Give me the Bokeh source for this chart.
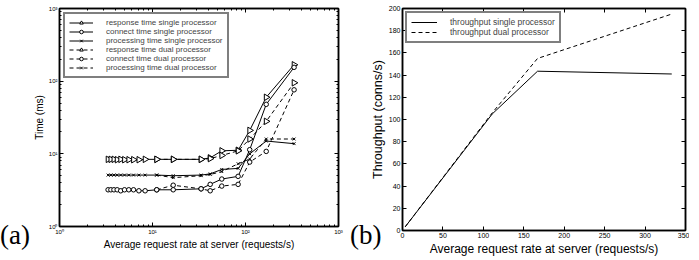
import math
from bokeh.plotting import figure
from bokeh.models import (Legend, LegendItem, LogAxis, LinearAxis, Range1d,
                          FixedTicker, Div)
from bokeh.layouts import row
from bokeh.embed import file_html
from bokeh.resources import INLINE

# ---------------- data ----------------
rate_single = [3.33, 3.57, 3.85, 4.17, 4.55, 5.0, 5.56, 6.25, 7.14, 8.33,
               11.1, 16.7, 33.3, 41.7, 55.6, 83.3, 111, 167, 333]
resp_single = [8.4, 8.4, 8.4, 8.3, 8.4, 8.3, 8.3, 8.3, 8.3, 8.4,
               8.4, 8.4, 8.4, 8.8, 11.0, 11.2, 21, 60, 168]
conn_single = [3.2, 3.2, 3.2, 3.2, 3.1, 3.2, 3.2, 3.2, 3.1, 3.1,
               3.2, 3.2, 3.3, 3.8, 4.5, 4.9, 11.4, 48, 155]
proc_single = [5.1, 5.1, 5.1, 5.1, 5.1, 5.1, 5.1, 5.1, 5.1, 5.1,
               5.1, 5.0, 5.1, 5.3, 6.1, 6.3, 10, 15, 13.8]

rate_dual = [11.1, 16.7, 33.3, 41.7, 55.6, 83.3, 111, 167, 333]
resp_dual = [8.4, 8.4, 8.4, 8.6, 9.5, 11, 16, 28, 95]
conn_dual = [3.2, 3.7, 3.3, 3.1, 3.6, 3.8, 7.7, 10.8, 76]
proc_dual = [5.1, 4.7, 5.0, 5.2, 5.7, 7.3, 8.5, 16, 16]

tp_rate = [3.33, 111, 167, 333]
tp_single = [3.3, 105, 143.5, 141]
tp_dual = [3.3, 106, 155, 195]

log_ticks = [1, 10, 100, 1000]
log_tick_labels = ["10⁰", "10¹", "10²", "10³"]
tp_xticks = [0, 50, 100, 150, 200, 250, 300, 350]
tp_yticks = [0, 20, 40, 60, 80, 100, 120, 140, 160, 180, 200]
panel_labels = ["(a)", "(b)"]

FONT = "Liberation Sans"
minor_log = [k * 10 ** e for e in range(3) for k in range(2, 10)]


def style_axis(ax, labels=True, tick_size="6px", label_size="10px"):
    ax.major_tick_in = 4
    ax.major_tick_out = 0
    ax.minor_tick_in = 2
    ax.minor_tick_out = 0
    ax.axis_line_width = 1.5
    ax.axis_line_color = "black"
    ax.major_tick_line_color = "black"
    ax.minor_tick_line_color = "black"
    ax.major_label_text_font = FONT
    ax.major_label_text_color = "black"
    ax.axis_label_text_font = FONT
    ax.axis_label_text_font_style = "normal"
    ax.axis_label_text_font_size = label_size
    ax.axis_label_text_color = "black"
    ax.major_label_text_font_size = tick_size
    if labels:
        ax.major_label_standoff = 2
        ax.axis_label_standoff = 1
    else:
        ax.major_label_text_alpha = 0
        ax.major_label_text_font_size = "1px"
        ax.major_label_standoff = 0


# ---------------- left: times ----------------
p1 = figure(frame_width=279, frame_height=218, x_axis_type="log", y_axis_type="log",
            x_range=Range1d(1, 1000), y_range=Range1d(1, 1000),
            output_backend="svg", toolbar_location=None,
            min_border_left=59, min_border_right=8, min_border_top=8,
            min_border_bottom=22)
p1.grid.visible = False
p1.outline_line_color = "black"
p1.outline_line_width = 1.5
p1.xaxis.axis_label = "Average request rate at server (requests/s)"
p1.yaxis.axis_label = "Time (ms)"
p1.xaxis.ticker = FixedTicker(ticks=log_ticks, minor_ticks=minor_log)
p1.yaxis.ticker = FixedTicker(ticks=log_ticks, minor_ticks=minor_log)
p1.xaxis.major_label_overrides = dict(zip(log_ticks, log_tick_labels))
p1.yaxis.major_label_overrides = dict(zip(log_ticks, log_tick_labels))
for ax in p1.axis:
    style_axis(ax, tick_size="6px", label_size="10px")
for loc in ("above", "right"):
    ax = LogAxis(ticker=FixedTicker(ticks=log_ticks, minor_ticks=minor_log))
    style_axis(ax, labels=False)
    p1.add_layout(ax, loc)

items = []
series = [
    ("response time single processor", rate_single, resp_single, "solid", "triangle"),
    ("connect time single processor", rate_single, conn_single, "solid", "circle"),
    ("processing time single processor", rate_single, proc_single, "solid", "x"),
    ("response time dual processor", rate_dual, resp_dual, "dashed", "triangle"),
    ("connect time dual processor", rate_dual, conn_dual, "dashed", "circle"),
    ("processing time dual processor", rate_dual, proc_dual, "dashed", "x"),
]
for name, xs, ys, dash, mk in series:
    ln = p1.line(xs, ys, line_color="black", line_width=1,
                 line_dash="4 3" if dash == "dashed" else "solid")
    size = {"triangle": 6.5, "circle": 4.5, "x": 4}[mk]
    ang = -math.pi / 2 if mk == "triangle" else 0
    sc = p1.scatter(xs, ys, marker=mk, size=size, angle=ang, line_color="black",
                    fill_color="white", line_width=1)
    items.append(LegendItem(label=name, renderers=[ln, sc]))

leg1 = Legend(items=items, location="top_left", margin=4, padding=4, spacing=0,
              label_text_font=FONT, label_text_font_size="8px", label_height=9,
              glyph_height=9, glyph_width=24, label_standoff=13,
              border_line_color="black", border_line_width=2,
              background_fill_alpha=1)
p1.add_layout(leg1)

# ---------------- right: throughput ----------------
p2 = figure(frame_width=283, frame_height=222, x_range=Range1d(0, 350),
            y_range=Range1d(0, 200), output_backend="svg", toolbar_location=None,
            min_border_left=56, min_border_right=4, min_border_top=6,
            min_border_bottom=22)
p2.grid.visible = False
p2.outline_line_color = "black"
p2.outline_line_width = 1.5
p2.xaxis.axis_label = "Average request rate at server (requests/s)"
p2.yaxis.axis_label = "Throughput (conns/s)"
p2.xaxis.ticker = FixedTicker(ticks=tp_xticks)
p2.yaxis.ticker = FixedTicker(ticks=tp_yticks)
for ax in p2.axis:
    style_axis(ax, tick_size="7px", label_size="12px")
p2.yaxis.axis_label_text_font_size = "12.5px"
ax_t = LinearAxis(ticker=FixedTicker(ticks=tp_xticks))
ax_r = LinearAxis(ticker=FixedTicker(ticks=tp_yticks))
style_axis(ax_t, labels=False)
style_axis(ax_r, labels=False)
p2.add_layout(ax_t, "above")
p2.add_layout(ax_r, "right")

l_s = p2.line(tp_rate, tp_single, line_color="black", line_width=1)
l_d = p2.line(tp_rate, tp_dual, line_color="black", line_width=1, line_dash="4 3")
leg2 = Legend(items=[LegendItem(label="throughput single processor", renderers=[l_s]),
                     LegendItem(label="throughput dual processor", renderers=[l_d])],
              location="top_left", margin=3, padding=4, spacing=0,
              label_text_font=FONT, label_text_font_size="8.5px", label_height=8,
              glyph_height=8, glyph_width=26, label_standoff=13,
              border_line_color="black", border_line_width=2)
p2.add_layout(leg2)

# panel letters as absolutely positioned text
div_styles = {"position": "absolute", "font-family": "Liberation Serif",
              "font-size": "27px", "line-height": "27px", "margin": "0",
              "padding": "0", "color": "black", "z-index": "10"}
div_a = Div(text=panel_labels[0], width=40, height=30,
            styles=dict(div_styles, left="0px", top="222px"))
div_b = Div(text=panel_labels[1], width=40, height=30,
            styles=dict(div_styles, left="350px", top="222px"))

layout = row(p1, p2, div_a, div_b)
open("out.html", "w").write(file_html(layout, INLINE))
